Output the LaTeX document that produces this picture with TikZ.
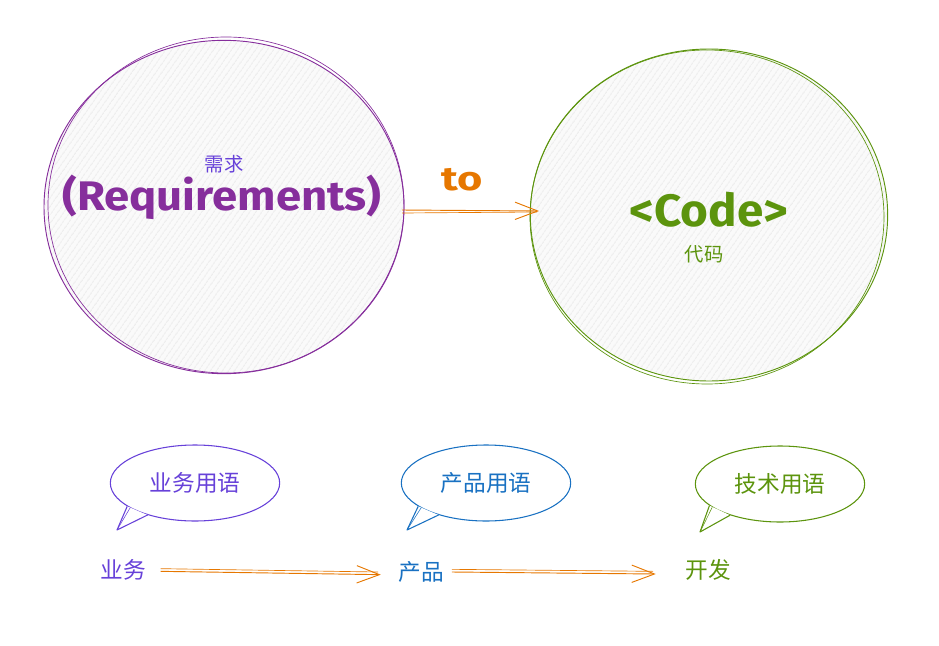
\documentclass[tikz,border=0pt]{standalone}
\usepackage{fontspec}
\setmainfont{Fira Sans}
\newfontfamily\cjk{Noto Sans CJK SC}
\usetikzlibrary{shapes.geometric,arrows.meta,patterns.meta}
\definecolor{grape}{HTML}{862E9C}
\definecolor{violetx}{HTML}{6741D9}
\definecolor{greenx}{HTML}{5C940D}
\definecolor{orangex}{HTML}{E67700}
\definecolor{bluex}{HTML}{1971C2}
\tikzset{
  bigcirc/.style={ellipse, line width=0.7pt, fill=gray!4, inner sep=0pt},
  hatch/.style={pattern={Lines[angle=55,distance=4pt,line width=0.4pt]}, pattern color=gray!32},
  bubble/.style={ellipse, draw, line width=0.8pt, fill=white, inner sep=0pt, minimum width=127pt, minimum height=57pt, font=\cjk\fontsize{17}{20}\selectfont},
  lbl/.style={font=\cjk\fontsize{17}{20}\selectfont, inner sep=1pt},
  arr/.style={draw=orangex, line width=0.7pt, -{Straight Barb[length=17pt,width=13pt]}}
}
\begin{document}
\begin{tikzpicture}[x=0.75pt,y=-0.75pt]
\useasboundingbox (0,0) rectangle (939,646);
% big circles
\node[bigcirc, draw=grape, minimum width=270pt, minimum height=250pt] (req) at (224,207) {};
\fill[hatch] (224,207) ellipse [x radius=179, y radius=166];
\draw[grape, line width=0.5pt] (226,205) ellipse [x radius=178, y radius=168];
\node[bigcirc, draw=greenx, minimum width=268pt, minimum height=249pt] (code) at (709,215) {};
\fill[hatch] (709,215) ellipse [x radius=178, y radius=165];
\draw[greenx, line width=0.5pt] (707,217) ellipse [x radius=177, y radius=167];
% texts inside circles
\node[text=violetx, font=\cjk\fontsize{14.5}{17}\selectfont] (reqcn) at (224,164) {需求};
\node[text=grape, font=\fontsize{31}{36}\selectfont\bfseries, xscale=1.1] (reqen) at (222,197) {(Requirements)};
\node[text=greenx, font=\fontsize{34}{38}\selectfont\bfseries, xscale=1.05] (codeen) at (709,210) {<Code>};
\node[text=greenx, font=\cjk\fontsize{14.5}{17}\selectfont] (codecn) at (704,254) {代码};
% to arrow
\node[text=orangex, font=\fontsize{25}{28}\selectfont\bfseries, xscale=1.3] (to) at (462,180) {to};
\coordinate (a1) at (402,210);
\coordinate (a2) at (539,211);
\draw[arr] (a1) -- (a2);
\draw[orangex, line width=0.5pt] (402,213) -- (537,212);
% bubbles
\node[bubble, draw=violetx, text=violetx] (b1) at (195,483) {业务用语};
\coordinate (t1) at (117,530);
\draw[violetx, line width=0.8pt, fill=white, line join=round] (b1.199) -- (t1) -- (b1.214);
\draw[violetx, line width=0.4pt] (b1.201) -- (t1);
\node[bubble, draw=bluex, text=bluex] (b2) at (486,483) {产品用语};
\coordinate (t2) at (407,530);
\draw[bluex, line width=0.8pt, fill=white, line join=round] (b2.199) -- (t2) -- (b2.214);
\draw[bluex, line width=0.4pt] (b2.201) -- (t2);
\node[bubble, draw=greenx, text=greenx] (b3) at (780,484) {技术用语};
\coordinate (t3) at (700,532);
\draw[greenx, line width=0.8pt, fill=white, line join=round] (b3.197) -- (t3) -- (b3.212);
\draw[greenx, line width=0.4pt] (b3.199) -- (t3);
% bottom labels
\node[lbl, text=violetx] (l1) at (123,570) {业务};
\node[lbl, text=bluex] (l2) at (421,572) {产品};
\node[lbl, text=greenx] (l3) at (708,570) {开发};
\draw[arr] ([xshift=10pt,yshift=-1pt]l1.east) -- ([xshift=-12pt,yshift=-2pt]l2.west);
\draw[orangex, line width=0.5pt] ([xshift=10pt,yshift=1pt]l1.east) -- ([xshift=-14pt]l2.west);
\draw[arr] ([xshift=5pt]l2.east) -- ([xshift=-21pt,yshift=-3pt]l3.west);
\draw[orangex, line width=0.5pt] ([xshift=5pt,yshift=2pt]l2.east) -- ([xshift=-23pt,yshift=-1pt]l3.west);
\end{tikzpicture}
\end{document}
